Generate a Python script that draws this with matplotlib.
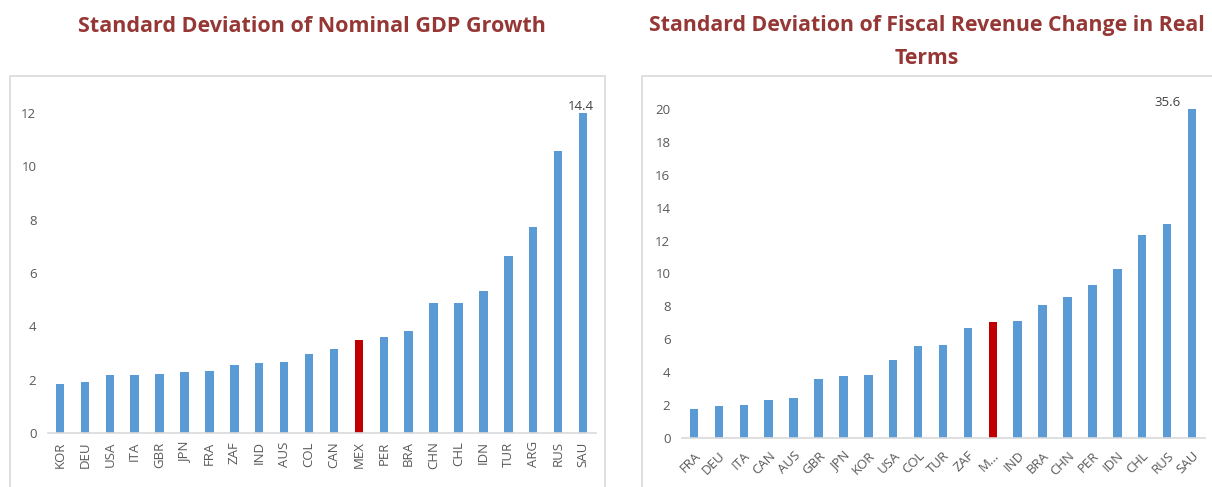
import matplotlib
matplotlib.use("Agg")
import matplotlib.pyplot as plt
from matplotlib.patches import Rectangle

plt.rcParams['font.family'] = ['Open Sans', 'DejaVu Sans']

# ---- data ----
gdp_countries = ["KOR", "DEU", "USA", "ITA", "GBR", "JPN", "FRA", "ZAF", "IND", "AUS", "COL",
                 "CAN", "MEX", "PER", "BRA", "CHN", "CHL", "IDN", "TUR", "ARG", "RUS", "SAU"]
gdp_values = [1.85, 1.91, 2.16, 2.19, 2.21, 2.28, 2.31, 2.55, 2.64, 2.66, 2.98,
              3.15, 3.48, 3.59, 3.81, 4.88, 4.88, 5.33, 6.65, 7.73, 10.56, 14.4]
gdp_ymax = 12

rev_countries = ["FRA", "DEU", "ITA", "CAN", "AUS", "GBR", "JPN", "KOR", "USA", "COL", "TUR",
                 "ZAF", "MEX", "IND", "BRA", "CHN", "PER", "IDN", "CHL", "RUS", "SAU"]
rev_labels = ["FRA", "DEU", "ITA", "CAN", "AUS", "GBR", "JPN", "KOR", "USA", "COL", "TUR",
              "ZAF", "M...", "IND", "BRA", "CHN", "PER", "IDN", "CHL", "RUS", "SAU"]
rev_values = [1.76, 1.96, 2.02, 2.31, 2.45, 3.58, 3.74, 3.85, 4.74, 5.59, 5.63,
              6.70, 7.06, 7.13, 8.08, 8.56, 9.33, 10.28, 12.33, 13.0, 35.6]
rev_ymax = 20

highlight = "MEX"
title_left = "Standard Deviation of Nominal GDP Growth"
title_right = "Standard Deviation of Fiscal Revenue Change in Real\nTerms"

# ---- style ----
W, H = 1212, 487
BLUE = "#5b9bd5"
RED = "#c00000"
TITLE_C = "#953735"
TXT = "#595959"
GRID = "#d9d9d9"

fig = plt.figure(figsize=(W / 100, H / 100), dpi=100)

def px(x0, y0, x1, y1):
    return [x0 / W, 1 - y1 / H, (x1 - x0) / W, (y1 - y0) / H]

# chart borders
for (x0, y0, x1, y1) in [(10, 76, 605, 495), (642, 76, 1220, 495)]:
    fig.patches.append(Rectangle((x0 / W, 1 - y1 / H), (x1 - x0) / W, (y1 - y0) / H,
                                 transform=fig.transFigure, fill=False,
                                 edgecolor=GRID, linewidth=1.2))

def draw(ax, cats, labels, vals, ymax, step, rot, lbl_text, lbl_dx, lbl_ha, ypad):
    x = list(range(len(cats)))
    colors = [RED if c == highlight else BLUE for c in cats]
    shown = [min(v, ymax) for v in vals]
    ax.bar(x, shown, width=0.34, color=colors, zorder=2)
    ax.set_xlim(-0.5, len(cats) - 0.5)
    ax.set_ylim(0, ymax)
    ax.set_yticks(list(range(0, ymax + 1, step)))
    for s in ["top", "right", "left"]:
        ax.spines[s].set_visible(False)
    ax.spines["bottom"].set_color(GRID)
    ax.spines["bottom"].set_linewidth(1.2)
    ax.tick_params(axis="both", length=0, colors=TXT, labelsize=9.5)
    ax.tick_params(axis="y", pad=ypad)
    ax.set_xticks(x)
    if rot == 90:
        ax.set_xticklabels(labels, rotation=90, va="top", ha="center")
        ax.tick_params(axis="x", pad=6)
    else:
        ax.set_xticklabels(labels, rotation=45, ha="right", va="top",
                           rotation_mode="anchor")
        ax.tick_params(axis="x", pad=8)
    i = len(cats) - 1
    ax.text(i + lbl_dx, ymax, lbl_text, ha=lbl_ha, va="bottom", fontsize=9.5,
            color="#404040", clip_on=False)

axL = fig.add_axes(px(47.5, 113, 595.5, 433))
draw(axL, gdp_countries, gdp_countries, gdp_values, gdp_ymax, 2, 90,
     f"{gdp_values[-1]:.1f}", -0.1, "center", 8)

axR = fig.add_axes(px(681.5, 109, 1204.5, 438))
draw(axR, rev_countries, rev_labels, rev_values, rev_ymax, 2, 45,
     f"{rev_values[-1]:.1f}", -0.45, "right", 8)

fig.text(312 / W, 1 - 26 / H, title_left, ha="center", va="center",
         fontsize=15.5, fontweight="bold", color=TITLE_C)
fig.text(927 / W, 1 - 42 / H, title_right, ha="center", va="center",
         fontsize=15.3, fontweight="bold", color=TITLE_C, linespacing=1.75)

fig.savefig("out.png", dpi=100)
